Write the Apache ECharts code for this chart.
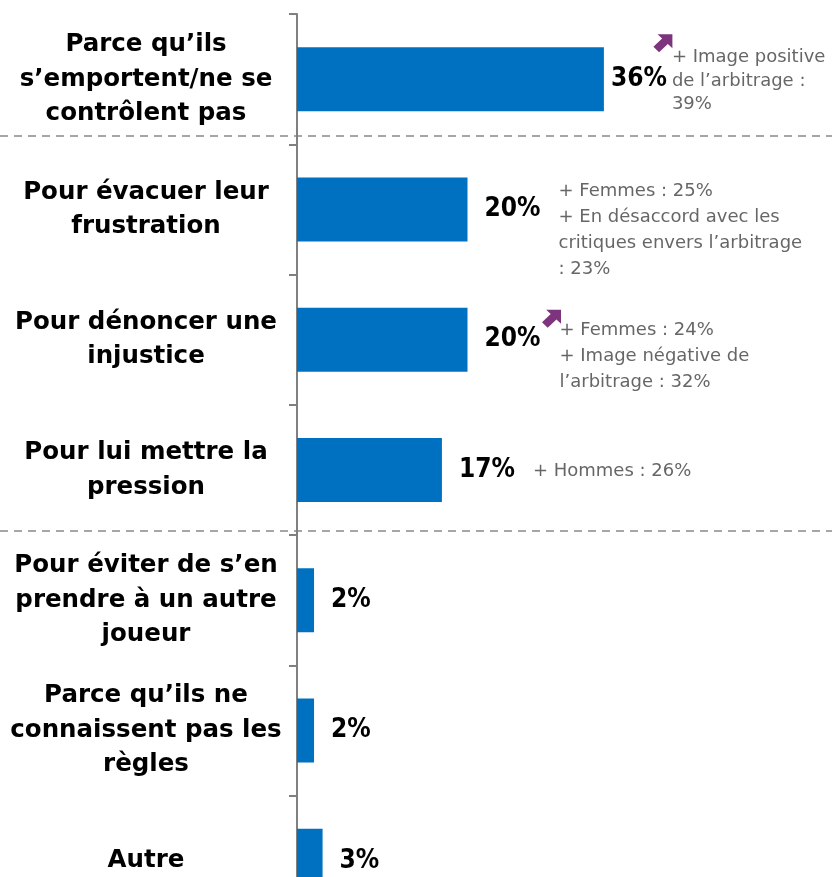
<!DOCTYPE html>
<html>
<head>
<meta charset="utf-8">
<script src="https://cdn.jsdelivr.net/npm/echarts@6/dist/echarts.min.js"></script>
<style>
    html, body { margin: 0; padding: 0; background: #fff; }
    #bar-chart { width: 832px; height: 877px; }
</style>
</head>
<body>
<div id="bar-chart"></div>
<script>
    var categories = [
        'Parce qu’ils\ns’emportent/ne se\ncontrôlent pas',
        'Pour évacuer leur\nfrustration',
        'Pour dénoncer une\ninjustice',
        'Pour lui mettre la\npression',
        'Pour éviter de s’en\nprendre à un autre\njoueur',
        'Parce qu’ils ne\nconnaissent pas les\nrègles',
        'Autre'
    ];
    var values = [36, 20, 20, 17, 2, 2, 3];
    // sous-populations significatives
    var notes = [
        '+ Image positive\nde l’arbitrage :\n39%',
        '+ Femmes : 25%\n+ En désaccord avec les\ncritiques envers l’arbitrage\n: 23%',
        '+ Femmes : 24%\n+ Image négative de\nl’arbitrage : 32%',
        '+ Hommes : 26%',
        '', '', ''
    ];
    var arrows = [true, false, true, false, false, false, false];
    // séparateurs après ces catégories
    var separatorsAfter = [0, 3];

    var myChart = echarts.init(document.getElementById('bar-chart'));
    var ARROW = 'path://M10,0 L10,7.8 L2.2,0 Z M0,7 L5,2 L8,5 L3,10 Z';

    var noteOffsets = [[68, 2], [91, 21], [92, 17], [91, 1]];
    var arrowOffsets = [[59, -36], [0, 0], [84, -21], [0, 0]];

    var barData = [];
    var noteData = [];
    var arrowData = [];
    for (var i = 0; i < categories.length; i++) {
        var item = {value: values[i]};
        if (i == 0) {
            item.label = {distance: 7};
        }
        barData.push(item);
        if (notes[i]) {
            noteData.push({
                value: [values[i], categories[i]],
                note: notes[i],
                label: {offset: noteOffsets[i], lineHeight: i == 0 ? 23.5 : 26}
            });
        }
        if (arrows[i]) {
            arrowData.push({value: [values[i], categories[i]], symbolOffset: arrowOffsets[i]});
        }
    }

    var option = {
        animation: false,
        grid: {
            left: 297,
            top: 14,
            width: 341,
            height: 912,
            containLabel: false,
            outerBoundsMode: 'none'
        },
        xAxis: {
            type: 'value',
            min: 0,
            max: 40,
            show: false
        },
        yAxis: {
            type: 'category',
            inverse: true,
            data: categories,
            axisLine: {
                show: true,
                lineStyle: {color: '#808080', width: 2}
            },
            axisTick: {
                show: true,
                length: 8,
                lineStyle: {color: '#808080', width: 2}
            },
            axisLabel: {
                align: 'center',
                margin: 151,
                color: '#000',
                fontFamily: 'DejaVu Sans',
                fontWeight: 'bold',
                fontSize: 24.5,
                lineHeight: 34.5
            },
            splitLine: {show: false}
        },
        series: [
            {
                type: 'bar',
                data: barData,
                barWidth: 64,
                itemStyle: {color: '#0070C0'},
                label: {
                    show: true,
                    position: 'right',
                    distance: 17,
                    formatter: '{c}%',
                    color: '#000',
                    fontFamily: 'DejaVu Sans Condensed',
                    fontWeight: 'bold',
                    fontSize: 26
                }
            },
            {
                type: 'scatter',
                data: noteData,
                symbolSize: 0,
                silent: true,
                label: {
                    show: true,
                    position: 'right',
                    distance: 0,
                    align: 'left',
                    formatter: function (p) {
                        return p.data.note;
                    },
                    color: '#404040',
                    fontFamily: 'DejaVu Sans',
                    fontSize: 18
                }
            },
            {
                type: 'scatter',
                data: arrowData,
                symbol: ARROW,
                symbolSize: [19, 18],
                silent: true,
                itemStyle: {color: '#5C005C'}
            }
        ]
    };
    myChart.setOption(option);

    // lignes pointillées de séparation
    var lines = [];
    var offs = [-8, -4];
    for (var k = 0; k < separatorsAfter.length; k++) {
        var idx = separatorsAfter[k];
        var y1 = myChart.convertToPixel({yAxisIndex: 0}, categories[idx]);
        var y2 = myChart.convertToPixel({yAxisIndex: 0}, categories[idx + 1]);
        var y = Math.round((y1 + y2) / 2) + offs[k];
        lines.push({
            type: 'line',
            shape: {x1: 0, y1: y, x2: 832, y2: y},
            style: {stroke: '#A6A6A6', lineWidth: 2, lineDash: [8, 6]},
            silent: true
        });
    }
    myChart.setOption({graphic: lines});
</script>
</body>
</html>
